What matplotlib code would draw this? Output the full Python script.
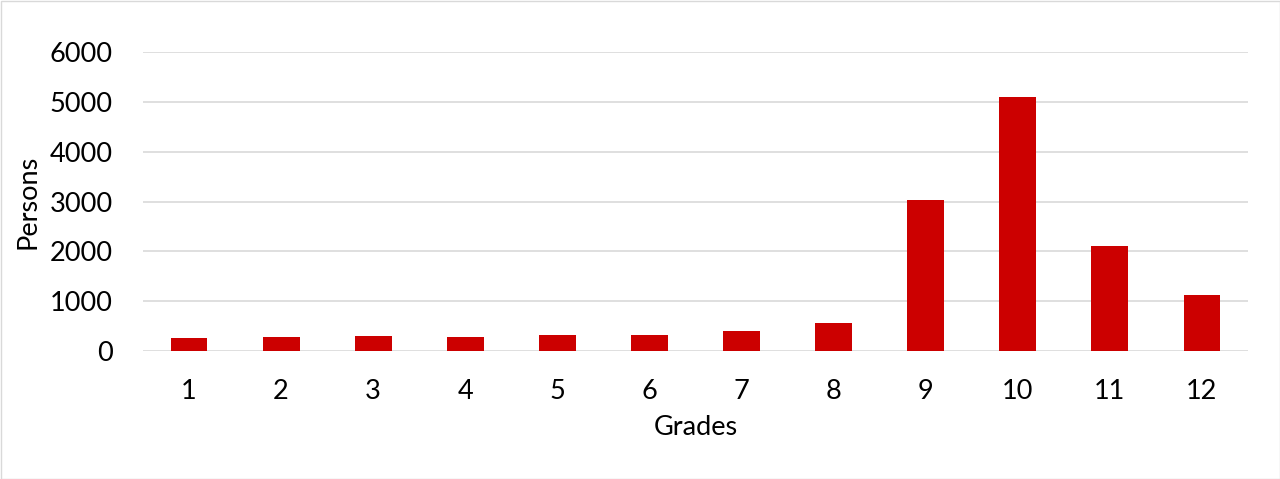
import matplotlib
matplotlib.use("Agg")
import matplotlib.pyplot as plt
from matplotlib.patches import Rectangle

grades = ["1", "2", "3", "4", "5", "6", "7", "8", "9", "10", "11", "12"]
persons = [260, 275, 300, 275, 320, 330, 410, 570, 3040, 5105, 2100, 1120]
yticks = [0, 1000, 2000, 3000, 4000, 5000, 6000]

plt.rcParams['font.family'] = ['Lato', 'DejaVu Sans']

fig = plt.figure(figsize=(12.8, 4.79), dpi=100)
ax = fig.add_axes([143 / 1280, 1 - 351 / 479, 1105 / 1280, 299 / 479])

x = range(len(grades))
ax.bar(x, persons, width=0.4, color="#cc0000", zorder=3)

ax.set_xlim(-0.5, len(grades) - 0.5)
ax.set_ylim(0, 6000)
ax.set_yticks(yticks)
ax.set_xticks(list(x))
ax.set_xticklabels(grades)
ax.grid(axis="y", color="#d9d9d9", lw=1.2, zorder=0)
ax.set_axisbelow(True)
for s in ax.spines.values():
    s.set_visible(False)
ax.tick_params(length=0, labelsize=19.5, colors="black", pad=22)
ax.tick_params(axis="x", pad=20)
ax.set_xlabel("Grades", fontsize=19.5, labelpad=8)
ax.set_ylabel("Persons", fontsize=19.5, labelpad=6)

fig.patches.append(Rectangle((0.5 / 1280, 0.5 / 479), 1 - 1 / 1280, 1 - 1 / 479,
                             transform=fig.transFigure, fill=False,
                             edgecolor="#d9d9d9", lw=1))

fig.savefig("out.png", dpi=100)
